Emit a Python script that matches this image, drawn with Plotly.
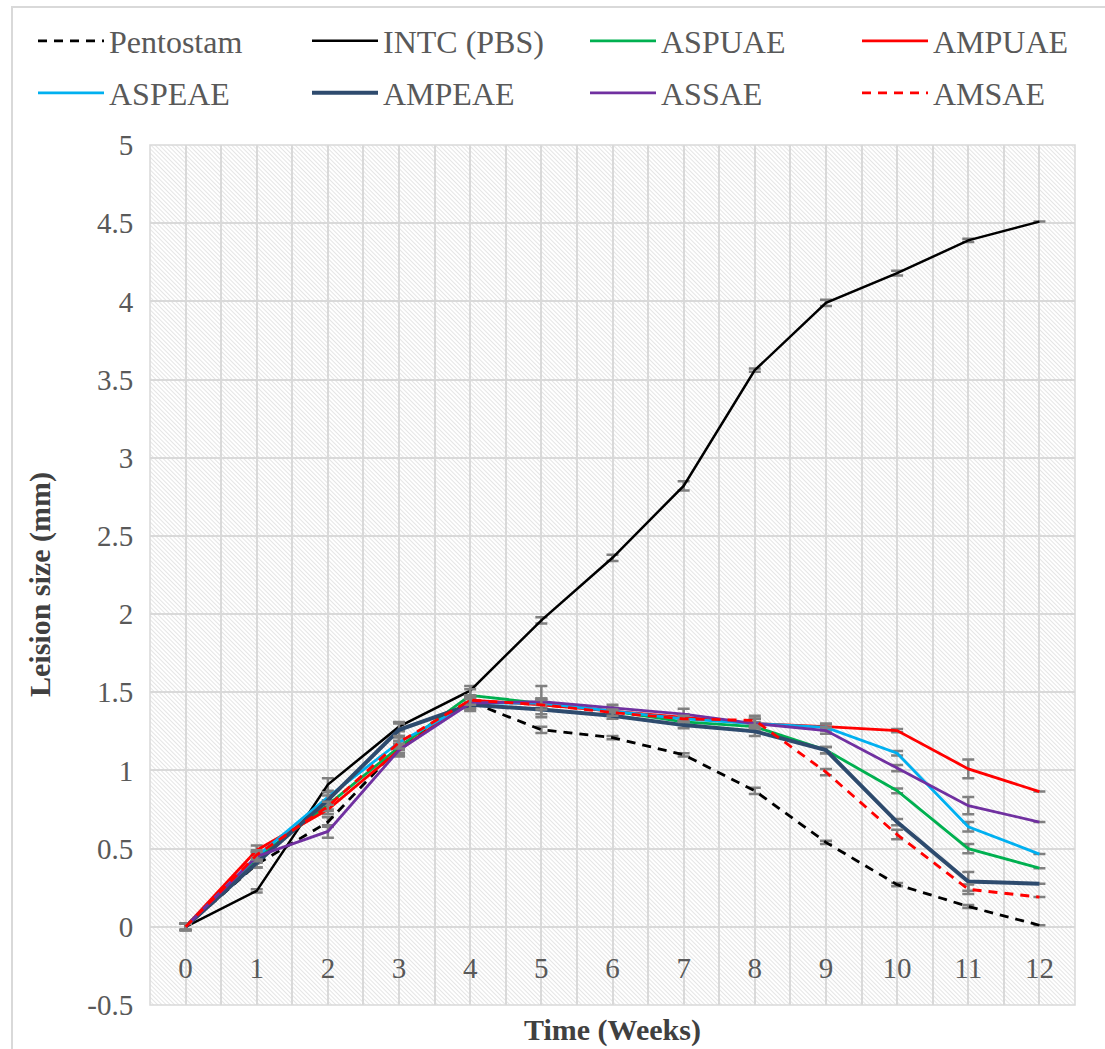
import base64
import plotly.graph_objects as go

# Weeks after infection
weeks = list(range(13))
week_labels = [str(w) for w in weeks]

# Mean lesion size (mm) per group
pentostam = [0, 0.40, 0.67, 1.15, 1.44, 1.26, 1.21, 1.10, 0.87, 0.54, 0.27, 0.13, 0.01]
intc_pbs = [0, 0.23, 0.91, 1.28, 1.51, 1.96, 2.36, 2.82, 3.56, 3.99, 4.18, 4.39, 4.51]
aspuae = [0, 0.44, 0.78, 1.15, 1.48, 1.43, 1.38, 1.31, 1.28, 1.13, 0.87, 0.50, 0.375]
ampuae = [0, 0.49, 0.75, 1.13, 1.45, 1.42, 1.38, 1.34, 1.30, 1.28, 1.255, 1.01, 0.865]
aspeae = [0, 0.45, 0.83, 1.18, 1.43, 1.43, 1.38, 1.33, 1.30, 1.275, 1.11, 0.64, 0.465]
ampeae = [0, 0.41, 0.81, 1.26, 1.42, 1.39, 1.35, 1.29, 1.25, 1.13, 0.67, 0.29, 0.275]
assae = [0, 0.45, 0.61, 1.13, 1.43, 1.44, 1.40, 1.36, 1.30, 1.255, 1.015, 0.775, 0.67]
amsae = [0, 0.46, 0.77, 1.18, 1.45, 1.42, 1.37, 1.33, 1.32, 0.99, 0.59, 0.24, 0.19]

# Standard errors (no bar at week 12)
nan = float("nan")
err_pentostam = [0.02, 0.02, 0.03, 0.02, 0.03, 0.02, 0.01, 0.01, 0.02, 0.01, 0.01, 0.01, nan]
err_intc = [0.02, 0.01, 0.04, 0.03, 0.03, 0.02, 0.02, 0.03, 0.01, 0.02, 0.015, 0.01, nan]
err_aspuae = [0.02, 0.03, 0.03, 0.04, 0.04, 0.03, 0.02, 0.02, 0.03, 0.02, 0.015, 0.03, nan]
err_ampuae = [0.02, 0.03, 0.03, 0.03, 0.03, 0.03, 0.02, 0.02, 0.03, 0.02, 0.01, 0.06, nan]
err_aspeae = [0.02, 0.03, 0.03, 0.03, 0.03, 0.03, 0.02, 0.02, 0.03, 0.02, 0.015, 0.03, nan]
err_ampeae = [0.02, 0.03, 0.03, 0.04, 0.04, 0.03, 0.02, 0.02, 0.03, 0.02, 0.02, 0.06, nan]
err_assae = [0.02, 0.03, 0.04, 0.04, 0.04, 0.10, 0.02, 0.035, 0.03, 0.02, 0.02, 0.055, nan]
err_amsae = [0.02, 0.03, 0.03, 0.04, 0.03, 0.03, 0.02, 0.02, 0.03, 0.02, 0.03, 0.03, nan]

y_tick_vals = [-0.5, 0, 0.5, 1, 1.5, 2, 2.5, 3, 3.5, 4, 4.5, 5]
y_tick_text = ["-0.5", "0", "0.5", "1", "1.5", "2", "2.5", "3", "3.5", "4", "4.5", "5"]

FONT = "Liberation Serif, Times New Roman, serif"
TEXT_GREY = "#595959"
GRID = "#d9d9d9"

W, H = 1105, 1049
ML, MR, MT, MB = 150, 30, 145, 44
PW, PH = W - ML - MR, H - MT - MB


def px_x(px):
    return (px - ML) / PW


def px_y(py):
    return (H - MB - py) / PH


series = [
    ("Pentostam", pentostam, err_pentostam, "#000000", 2.8, "9px,7px"),
    ("INTC (PBS)", intc_pbs, err_intc, "#000000", 2.5, "solid"),
    ("ASPUAE", aspuae, err_aspuae, "#00B050", 2.8, "solid"),
    ("AMPUAE", ampuae, err_ampuae, "#FF0000", 2.8, "solid"),
    ("ASPEAE", aspeae, err_aspeae, "#00B0F0", 2.8, "solid"),
    ("AMPEAE", ampeae, err_ampeae, "#2E4B6E", 4.0, "solid"),
    ("ASSAE", assae, err_assae, "#7030A0", 2.8, "solid"),
    ("AMSAE", amsae, err_amsae, "#FF0000", 2.8, "9px,7px"),
]

# one legend box per entry, laid out as a 4 x 2 grid above the plot
legend_cols_px = [33, 307, 585, 857]
legend_rows_px = [41, 93]

fig = go.Figure()
legend_layout = {}
for i, (name, vals, err, color, width, dash) in enumerate(series):
    key = "legend" if i == 0 else f"legend{i + 1}"
    fig.add_trace(go.Scatter(
        x=weeks, y=vals, name=name, mode="lines",
        line=dict(color=color, width=width, dash=dash),
        error_y=dict(type="data", array=err, visible=True,
                     color="#808080", thickness=2.5, width=6),
        legend=key,
    ))
    legend_layout[key] = dict(
        x=px_x(legend_cols_px[i % 4]), y=px_y(legend_rows_px[i // 4]),
        xanchor="left", yanchor="middle", orientation="h",
        itemwidth=66, font=dict(family=FONT, size=32, color=TEXT_GREY),
        bgcolor="rgba(0,0,0,0)", borderwidth=0,
    )

# diagonal hatch used as the plot-area background
hatch_svg = (
    f"<svg xmlns='http://www.w3.org/2000/svg' width='{PW}' height='{PH}'>"
    "<defs><pattern id='h' width='3' height='3' patternUnits='userSpaceOnUse' "
    "patternTransform='rotate(-45)'>"
    "<line x1='0' y1='0' x2='0' y2='3' stroke='#cfcfcf' stroke-width='1.1'/>"
    "</pattern></defs>"
    "<rect width='100%' height='100%' fill='white'/>"
    "<rect width='100%' height='100%' fill='url(#h)'/></svg>"
)
hatch_uri = "data:image/svg+xml;base64," + base64.b64encode(hatch_svg.encode()).decode()

# x gridlines every half week, labels only on whole weeks
x_grid_vals = [w / 2 for w in range(-1, 26)]
x_grid_text = [week_labels[int(v)] if float(v).is_integer() and v >= 0 else "" for v in x_grid_vals]

fig.update_layout(
    width=W, height=H, autosize=False,
    margin=dict(l=ML, r=MR, t=MT, b=MB),
    paper_bgcolor="white", plot_bgcolor="rgba(0,0,0,0)",
    font=dict(family=FONT, color=TEXT_GREY),
    showlegend=True,
    xaxis=dict(
        range=[-0.5, 12.5], tickmode="array",
        tickvals=x_grid_vals, ticktext=x_grid_text,
        showgrid=True, gridcolor=GRID, gridwidth=1.5,
        zeroline=False, showline=False,
        anchor="free", position=0.5 / 5.5,
        ticks="outside", ticklen=15, tickcolor="rgba(0,0,0,0)",
        tickfont=dict(family=FONT, size=29, color=TEXT_GREY),
    ),
    yaxis=dict(
        range=[-0.5, 5], tickmode="array",
        tickvals=y_tick_vals, ticktext=y_tick_text,
        showgrid=True, gridcolor=GRID, gridwidth=1.5,
        zeroline=False, showline=False,
        ticks="outside", ticklen=10, tickcolor="rgba(0,0,0,0)",
        tickfont=dict(family=FONT, size=29, color=TEXT_GREY),
    ),
    images=[dict(
        source=hatch_uri, xref="paper", yref="paper",
        x=0, y=1, sizex=1, sizey=1, xanchor="left", yanchor="top",
        sizing="stretch", layer="below",
    )],
    shapes=[
        dict(type="rect", xref="paper", yref="paper", x0=0, y0=0, x1=1, y1=1,
             line=dict(color=GRID, width=1.5), layer="below"),
        dict(type="rect", xref="paper", yref="paper",
             x0=px_x(12), y0=px_y(1060), x1=px_x(1112), y1=px_y(7),
             line=dict(color=GRID, width=2)),
    ],
    annotations=[
        dict(text="<b>Time (Weeks)</b>", xref="paper", yref="paper",
             x=px_x(612), y=px_y(1030), xanchor="center", yanchor="middle",
             showarrow=False, font=dict(family=FONT, size=30, color="#404040")),
        dict(text="<b>Leision size (mm)</b>", xref="paper", yref="paper",
             x=px_x(40), y=px_y(585), xanchor="center", yanchor="middle",
             textangle=-90, showarrow=False,
             font=dict(family=FONT, size=30, color="#404040")),
    ],
    **legend_layout,
)

fig.write_html("out.html")
